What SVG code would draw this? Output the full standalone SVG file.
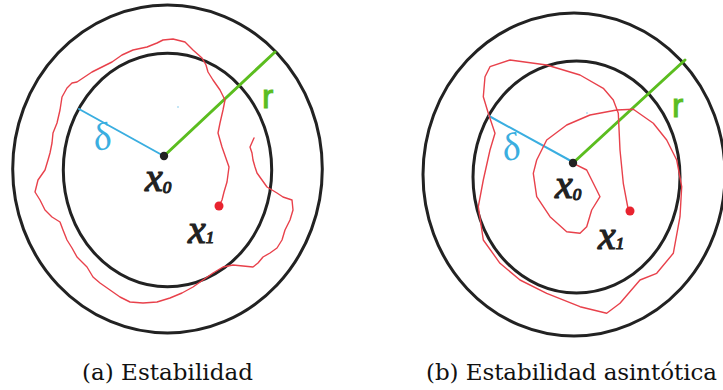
<svg xmlns="http://www.w3.org/2000/svg" width="723" height="390" viewBox="0 0 723 390">
<style>
.ring{fill:none;stroke:#222;stroke-width:3}
.traj{fill:none;stroke:#e8414b;stroke-width:1.4;stroke-linejoin:round;stroke-linecap:round}
.rad-r{stroke:#5bbd1f;stroke-width:3;stroke-linecap:round}
.rad-d{stroke:#3aaee0;stroke-width:2;stroke-linecap:round}
.hand{font-family:"Liberation Serif",serif;font-style:italic;fill:#222;stroke:#222;stroke-width:1.2}
.lab-r{font-family:"Liberation Sans",sans-serif;fill:#5bbd1f;stroke:#5bbd1f;stroke-width:1;font-size:34px}
.lab-d{font-family:"Liberation Serif",serif;font-style:italic;fill:#3aaee0;font-size:38px}
.cap{font-family:"DejaVu Serif",serif;font-size:23px;fill:#111}
</style>
<rect width="723" height="390" fill="#fff"/>

<g id="panel-a">
  <ellipse class="ring" cx="167.5" cy="169" rx="154.8" ry="164"/>
  <ellipse class="ring" cx="167.5" cy="170" rx="104.2" ry="116.7"/>
  <g id="connectors-a">
    <line class="rad-d" x1="79" y1="109" x2="162" y2="155"/>
    <line class="rad-r" x1="164" y1="156" x2="275" y2="52"/>
    <polyline class="traj" points="219,206 222,200 224,192 227,182 229,167 222,147 218,133 220,123 223,110 225,100 220,90 213,80 208,72 206,65 202,58 193,50 185,42 173,39 163,40 157,43 147,47 133,50 122,55 112,62 102,67 92,72 83,78 77,82 72,83 67,88 62,97 60,110 57,123 53,133 52,143 50,153 48,160 45,170 38,180 35,192 40,200 45,210 52,217 60,222 63,230 67,240 72,248 77,257 87,267 93,277 100,283 110,290 120,297 130,302 143,303 157,302 170,298 182,293 193,287 203,280 213,273 223,267 233,265 243,266 253,267 258,263 263,257 270,253 277,248 282,240 285,230 290,220 293,210 292,200 283,197 277,193 272,190 267,187 262,180 257,173 255,167 253,160 252,153 250,147 254,138"/>
  </g>
  <circle cx="178" cy="107" r="0.8" fill="#7cc6ea"/>
  <g id="x0-a"><circle cx="164" cy="156" r="4.2" fill="#222"/><text class="hand" x="145" y="191" font-size="40">x<tspan font-size="17" dy="2">0</tspan></text></g>
  <g id="x1-a"><circle cx="219" cy="206" r="4.5" fill="#e8232f"/><text class="hand" x="188" y="243" font-size="40">x<tspan font-size="17">1</tspan></text></g>
  <text class="lab-r" x="262" y="108">r</text>
  <text class="lab-d" x="92" y="150" transform="rotate(-15 100 135)">δ</text>
  <text class="cap" x="167.5" y="380" text-anchor="middle" textLength="171">(a) Estabilidad</text>
</g>

<g id="panel-b">
  <ellipse class="ring" cx="574" cy="174.5" rx="151" ry="161.5"/>
  <ellipse class="ring" cx="576.5" cy="177" rx="103.5" ry="116"/>
  <g id="connectors-b">
    <line class="rad-d" x1="489" y1="116" x2="571" y2="161"/>
    <line class="rad-r" x1="573" y1="163" x2="685" y2="60"/>
    <polyline class="traj" points="573.3,163.3 586.7,170 596.7,190 600,196.7 591.7,210 586.7,226.7 580,233.3 566.7,231.7 550,216.7 536.7,196.7 533.3,173.3 536.7,160 546.7,140 566.7,125 590,115 616.7,110 633.3,109.3 653.3,123.3 666.7,140 676.7,160 681.7,186.7 680,216.7 673.3,253.3 656.7,273.3 640,280 620,303.3 606.7,313.3 580,306.7 546.7,293.3 520,280 500,263.3 483.3,240 478.3,206.7 483.3,180 490,150 495,133.3 488.3,113.3 483.3,96.7 485,76.7 490,66.7 510,60 546.7,65 580,75 603.3,88.3 613.3,100 618.3,113.3 620,150 623.3,183.3 628.3,210"/>
  </g>
  <circle cx="587" cy="113" r="0.8" fill="#7cc6ea"/>
  <g id="x0-b"><circle cx="573" cy="163" r="4.2" fill="#222"/><text class="hand" x="555" y="198" font-size="40">x<tspan font-size="17" dy="2">0</tspan></text></g>
  <g id="x1-b"><circle cx="630" cy="211" r="4.5" fill="#e8232f"/><text class="hand" x="598" y="249" font-size="40">x<tspan font-size="17">1</tspan></text></g>
  <text class="lab-r" x="672" y="117">r</text>
  <text class="lab-d" x="501" y="160" transform="rotate(-15 510 145)">δ</text>
  <text class="cap" x="571.5" y="380" text-anchor="middle" textLength="291">(b) Estabilidad asintótica</text>
</g>
</svg>
